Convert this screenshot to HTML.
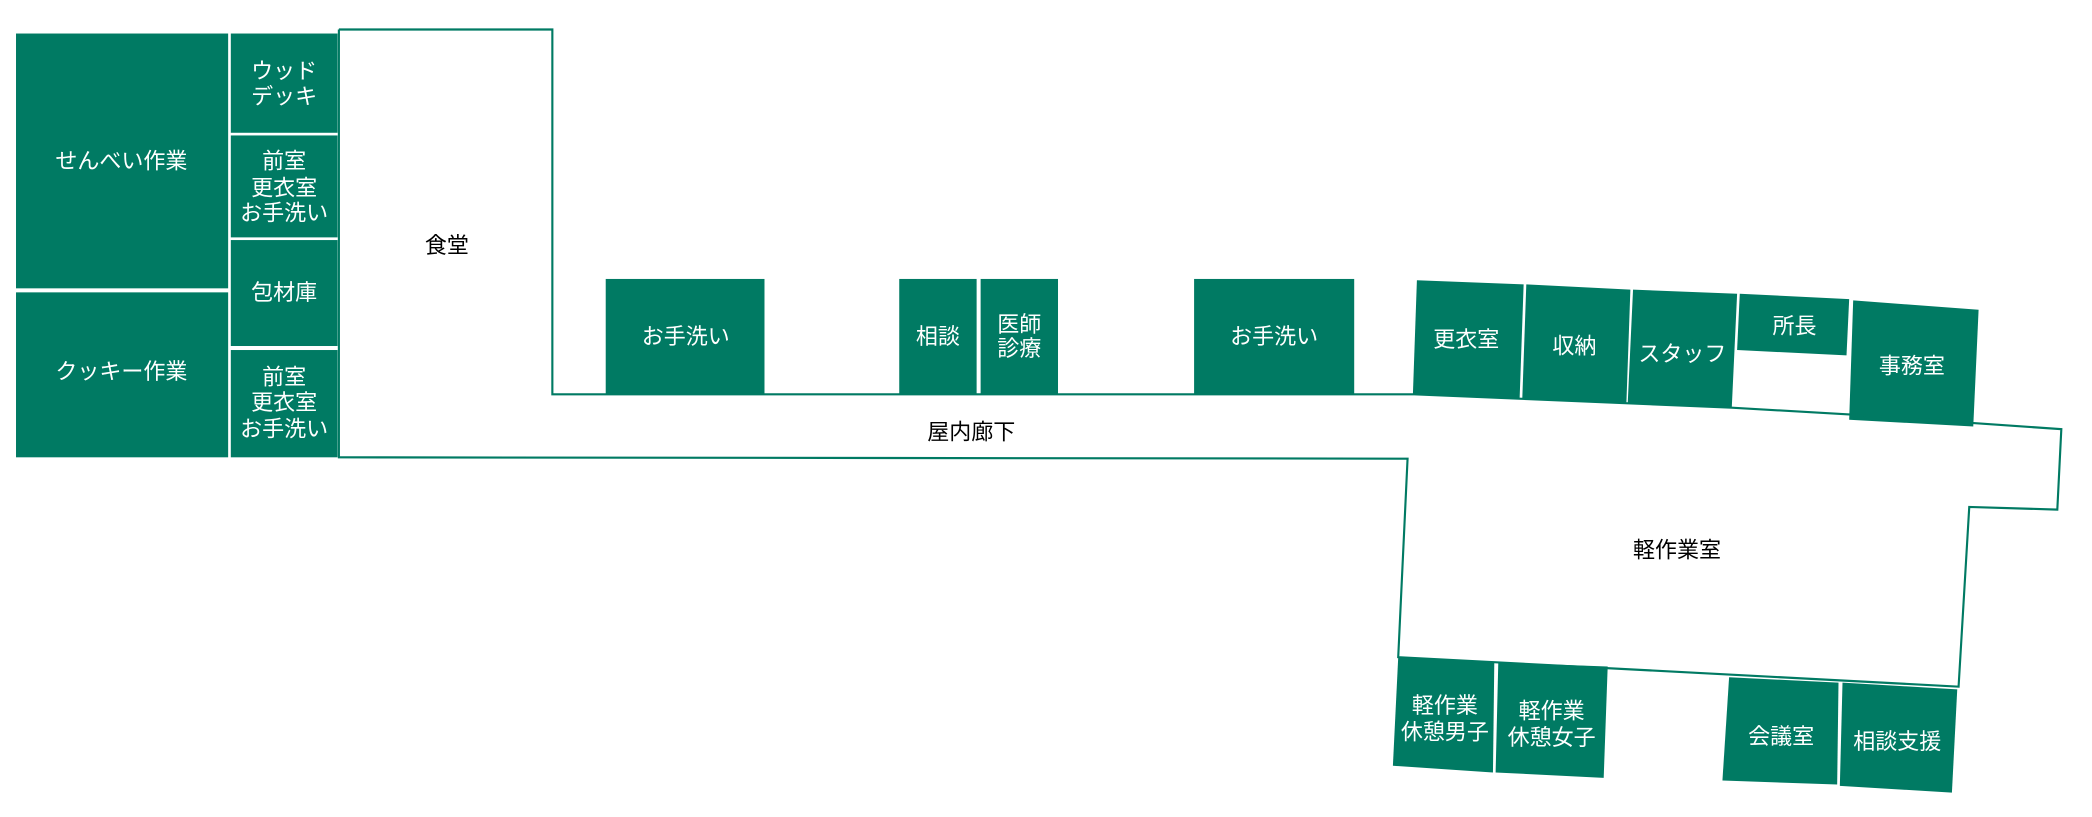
<!DOCTYPE html>
<html><head><meta charset="utf-8"><style>
html,body{margin:0;padding:0;background:#fff;}
svg{display:block}
text{font-family:"Liberation Sans","Noto Sans CJK JP",sans-serif;font-size:16.5px;text-anchor:middle;dominant-baseline:central}
.w{fill:#fff}.b{fill:#000}
</style></head><body>
<svg width="2092" height="817" viewBox="0 0 1568 609.2" preserveAspectRatio="none" xmlns="http://www.w3.org/2000/svg">
<g fill="#007a63">
<rect x="12" y="25" width="159" height="190"/>
<rect x="12" y="218" width="159" height="123"/>
<rect x="173" y="25" width="80" height="74"/>
<rect x="173" y="101" width="80" height="76"/>
<rect x="173" y="179" width="80" height="79"/>
<rect x="173" y="261" width="80" height="80"/>
<rect x="454" y="208" width="119" height="86"/>
<rect x="674" y="208" width="58" height="86"/>
<rect x="735" y="208" width="58" height="86"/>
<rect x="895" y="208" width="120" height="86"/>
<polygon points="1062,209 1142,212 1139,297 1059,294"/>
<polygon points="1144,212 1222,216 1219,301 1141,297"/>
<polygon points="1224,216 1302,219 1298,304 1220,301"/>
<polygon points="1304,219 1386,223 1384,265 1302,261"/>
<polygon points="1389,224 1483,231 1479,318 1386,313"/>
<polygon points="1048,490 1120,494 1119,576 1044,571"/>
<polygon points="1123,494 1205,497 1202,580 1121,576"/>
<polygon points="1296,505 1378,509 1377,585 1291,582"/>
<polygon points="1381,509 1467,514 1463,591 1379,586"/>
</g>
<g fill="none" stroke="#007a63" stroke-width="1.6">
<polyline points="254,22 414,22 414,294 1060,294 1298,304 1386,309 1545,320 1542,380 1476,378 1468,512 1048,490 1055,342 254,341 254,22"/>
</g>
<text class="w" x="91" y="120">せんべい作業</text>
<text class="w" x="91" y="277">クッキー作業</text>
<text class="w" x="213" y="53">ウッド</text>
<text class="w" x="213" y="72">デッキ</text>
<text class="w" x="213" y="120">前室</text>
<text class="w" x="213" y="140">更衣室</text>
<text class="w" x="213" y="159">お手洗い</text>
<text class="w" x="213" y="218">包材庫</text>
<text class="w" x="213" y="281">前室</text>
<text class="w" x="213" y="300">更衣室</text>
<text class="w" x="213" y="320">お手洗い</text>
<text class="b" x="335" y="183">食堂</text>
<text class="w" x="514" y="251">お手洗い</text>
<text class="w" x="703" y="251">相談</text>
<text class="w" x="764" y="242">医師</text>
<text class="w" x="764" y="260">診療</text>
<text class="w" x="955" y="251">お手洗い</text>
<text class="w" x="1099" y="253">更衣室</text>
<text class="w" x="1180" y="258">収納</text>
<text class="w" x="1261" y="264">スタッフ</text>
<text class="w" x="1345" y="243">所長</text>
<text class="w" x="1433" y="273">事務室</text>
<text class="b" x="728" y="322">屋内廊下</text>
<text class="b" x="1257" y="410">軽作業室</text>
<text class="w" x="1083" y="526">軽作業</text>
<text class="w" x="1083" y="546">休憩男子</text>
<text class="w" x="1163" y="530">軽作業</text>
<text class="w" x="1163" y="550">休憩女子</text>
<text class="w" x="1335" y="549">会議室</text>
<text class="w" x="1422" y="553">相談支援</text>
</svg>
</body></html>
